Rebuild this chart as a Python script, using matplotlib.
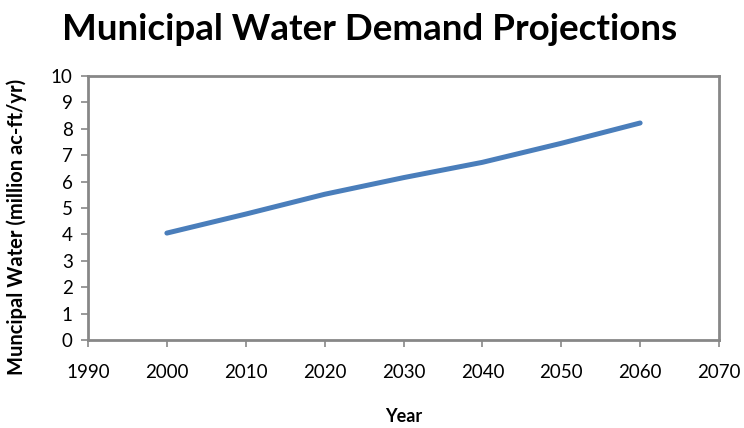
import matplotlib.pyplot as plt

# valori
years = [2000, 2010, 2020, 2030, 2040, 2050, 2060]
demand = [4.05, 4.77, 5.52, 6.15, 6.73, 7.45, 8.22]
x_ticks = [1990, 2000, 2010, 2020, 2030, 2040, 2050, 2060, 2070]
y_ticks = list(range(0, 11))

plt.rcParams['font.family'] = ['Lato', 'DejaVu Sans']
gray = '#878787'

fig = plt.figure(figsize=(7.44, 4.28), dpi=100)
ax = fig.add_axes([88/744, 1 - 340/428, (719 - 88)/744, (340 - 76)/428])

ax.plot(years, demand, color='#4A7EBB', linewidth=3.6,
        solid_capstyle='round', solid_joinstyle='round')

ax.set_xlim(1990, 2070)
ax.set_ylim(0, 10)
ax.set_xticks(x_ticks)
ax.set_yticks(y_ticks)
ax.tick_params(axis='both', direction='out', length=5, width=1.2, color=gray,
               labelsize=13.5, pad=6)
ax.tick_params(axis='x', pad=12)
for s in ax.spines.values():
    s.set_color(gray)
    s.set_linewidth(2)

fig.text(370/744, 1 - 30/428, "Municipal Water Demand Projections",
         ha='center', va='center', fontsize=26.5, fontweight='bold')
ax.set_xlabel("Year", fontsize=13, fontweight='bold', labelpad=20)
ax.set_ylabel("Muncipal Water (million ac-ft/yr)", fontsize=14.5, fontweight='bold')
ax.yaxis.set_label_coords(-0.097, 0.43)

fig.savefig("out.png", dpi=100)
